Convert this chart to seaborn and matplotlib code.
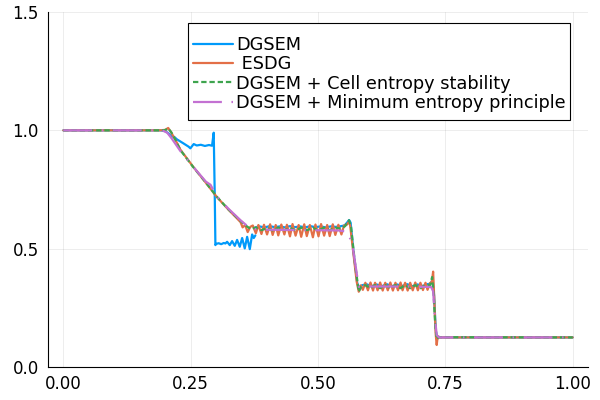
import numpy as np
import pandas as pd
import matplotlib
matplotlib.use("Agg")
import matplotlib.pyplot as plt
from matplotlib.patches import Rectangle
import seaborn as sns

# ---------------- data ----------------
labels = ["DGSEM", " ESDG", "DGSEM + Cell entropy stability", "DGSEM + Minimum entropy principle"]
colors = ["#009AFA", "#E36F47", "#3EA44E", "#C371D2"]

x_ticks = [0.00, 0.25, 0.50, 0.75, 1.00]
x_ticklabels = ["0.00", "0.25", "0.50", "0.75", "1.00"]
y_ticks = [0.0, 0.5, 1.0, 1.5]
y_ticklabels = ["0.0", "0.5", "1.0", "1.5"]

# DGSEM, first segment (left state, plateau, spurious shock, low plateau)
dg1_x = [0.0, 0.190, 0.200, 0.206, 0.212, 0.218, 0.223, 0.235, 0.246, 0.2495, 0.256,
         0.262, 0.270, 0.278, 0.286, 0.292, 0.2953, 0.2975, 0.2986, 0.300, 0.305,
         0.310, 0.315, 0.3183, 0.3216, 0.3268, 0.3314, 0.3366, 0.3412, 0.3464,
         0.3511, 0.3562, 0.3609, 0.3661, 0.3707, 0.3739, 0.3770]
dg1_y = [1.0, 1.0, 0.997, 0.988, 0.975, 0.972, 0.962, 0.946, 0.931, 0.924, 0.942,
         0.936, 0.939, 0.934, 0.938, 0.935, 0.990, 0.700, 0.515, 0.520, 0.523,
         0.519, 0.524, 0.522, 0.529, 0.515, 0.532, 0.512, 0.537, 0.508,
         0.545, 0.501, 0.550, 0.498, 0.560, 0.545, 0.556]
# DGSEM, second segment
dg2_x = [0.3770, 0.385, 0.395, 0.405, 0.415, 0.425, 0.435, 0.445, 0.455, 0.465,
         0.475, 0.485, 0.495, 0.505, 0.515, 0.525, 0.535, 0.545, 0.552, 0.557,
         0.561, 0.564, 0.570, 0.577, 0.581, 0.586, 0.595, 0.605, 0.615, 0.625,
         0.635, 0.645, 0.655, 0.665, 0.675, 0.685, 0.695, 0.705, 0.715, 0.721,
         0.725, 0.728, 0.731, 0.734, 0.737, 0.740, 1.0]
dg2_y = [0.590, 0.594, 0.590, 0.595, 0.591, 0.594, 0.590, 0.595, 0.591, 0.594,
         0.590, 0.595, 0.591, 0.594, 0.590, 0.594, 0.592, 0.595, 0.598, 0.610,
         0.621, 0.610, 0.480, 0.355, 0.335, 0.345, 0.350, 0.341, 0.349, 0.341,
         0.350, 0.341, 0.349, 0.342, 0.350, 0.341, 0.349, 0.342, 0.350, 0.352,
         0.370, 0.300, 0.160, 0.118, 0.128, 0.125, 0.125]

# ESDG
es_x = [0.0, 0.190, 0.200, 0.206, 0.212, 0.220, 0.230, 0.255, 0.280, 0.302, 0.325,
        0.340, 0.348, 0.352, 0.357, 0.362, 0.367,
        0.372, 0.378, 0.383, 0.389, 0.394, 0.400, 0.406, 0.411, 0.417, 0.422, 0.428,
        0.434, 0.439, 0.445, 0.450, 0.456, 0.462, 0.467, 0.473, 0.478, 0.484, 0.490,
        0.495, 0.501, 0.506, 0.512, 0.518, 0.523, 0.529, 0.534, 0.540, 0.546, 0.551,
        0.556, 0.560, 0.563, 0.570, 0.576, 0.580, 0.584,
        0.588, 0.593, 0.598, 0.603, 0.608, 0.612, 0.617, 0.622, 0.627, 0.632, 0.637,
        0.642, 0.647, 0.652, 0.657, 0.662, 0.666, 0.671, 0.676, 0.681, 0.686, 0.691,
        0.696, 0.701, 0.706, 0.711, 0.715, 0.720,
        0.7235, 0.726, 0.728, 0.731, 0.733, 0.735, 0.738, 1.0]
es_y = [1.0, 1.0, 1.002, 1.010, 0.990, 0.960, 0.918, 0.846, 0.778, 0.717, 0.663,
        0.630, 0.612, 0.590, 0.600, 0.570, 0.592,
        0.598, 0.565, 0.600, 0.562, 0.601, 0.560, 0.603, 0.558, 0.600, 0.556, 0.602,
        0.560, 0.601, 0.552, 0.604, 0.555, 0.600, 0.550, 0.603, 0.553, 0.600, 0.548,
        0.602, 0.552, 0.604, 0.555, 0.600, 0.553, 0.603, 0.558, 0.601, 0.560, 0.598,
        0.600, 0.612, 0.600, 0.470, 0.360, 0.318, 0.345,
        0.326, 0.356, 0.324, 0.357, 0.323, 0.356, 0.324, 0.357, 0.323, 0.356, 0.324,
        0.357, 0.323, 0.356, 0.324, 0.357, 0.324, 0.356, 0.323, 0.356, 0.324, 0.357,
        0.324, 0.356, 0.325, 0.356, 0.326, 0.355,
        0.360, 0.403, 0.300, 0.140, 0.093, 0.130, 0.125, 0.125]

# DGSEM + Cell entropy stability
ce_x = [0.0, 0.190, 0.200, 0.206, 0.212, 0.220, 0.230, 0.255, 0.280, 0.302, 0.325,
        0.348, 0.360, 0.367, 0.378, 0.389, 0.400, 0.411, 0.422, 0.434, 0.445, 0.456,
        0.467, 0.478, 0.490, 0.501, 0.512, 0.523, 0.534, 0.546, 0.553, 0.558, 0.561,
        0.565, 0.572, 0.580, 0.585, 0.593, 0.603, 0.612, 0.622, 0.632, 0.642, 0.652,
        0.662, 0.671, 0.681, 0.691, 0.701, 0.711, 0.720, 0.724, 0.727, 0.730, 0.733,
        0.736, 1.0]
ce_y = [1.0, 1.0, 1.001, 1.008, 0.992, 0.960, 0.916, 0.845, 0.779, 0.718, 0.664,
        0.617, 0.595, 0.584, 0.589, 0.578, 0.588, 0.577, 0.589, 0.578, 0.588, 0.577,
        0.589, 0.578, 0.588, 0.577, 0.589, 0.578, 0.588, 0.585, 0.595, 0.612, 0.620,
        0.590, 0.450, 0.318, 0.340, 0.346, 0.333, 0.346, 0.333, 0.346, 0.333, 0.346,
        0.333, 0.346, 0.333, 0.346, 0.333, 0.346, 0.345, 0.380, 0.310, 0.180, 0.118,
        0.126, 0.125]

# DGSEM + Minimum entropy principle
me_x = [0.0, 0.188, 0.196, 0.204, 0.213, 0.230, 0.255, 0.280, 0.289, 0.302, 0.325,
        0.348, 0.360, 0.367, 0.400, 0.450, 0.500, 0.540, 0.557, 0.562, 0.567, 0.574,
        0.580, 0.586, 0.650, 0.700, 0.722, 0.726, 0.729, 0.733, 0.737, 0.740, 1.0]
me_y = [1.0, 1.0, 0.998, 0.990, 0.965, 0.912, 0.846, 0.783, 0.770, 0.719, 0.667,
        0.620, 0.598, 0.584, 0.580, 0.579, 0.578, 0.577, 0.572, 0.548, 0.524, 0.424,
        0.339, 0.340, 0.340, 0.339, 0.338, 0.320, 0.220, 0.135, 0.126, 0.125, 0.125]

# ---------------- figure ----------------
sns.set_theme(style="white")
plt.rcParams["font.family"] = ["DejaVu Sans"]
plt.rcParams["text.color"] = "black"

fig = plt.figure(figsize=(6, 4), dpi=100)
ax = fig.add_axes([0.08, 0.0825, 0.90, 0.8875])

lw = 1.6
sns.lineplot(x=dg1_x, y=dg1_y, sort=False, estimator=None, color=colors[0], lw=lw,
             ax=ax, label=labels[0])
sns.lineplot(x=dg2_x, y=dg2_y, sort=False, estimator=None, color=colors[0], lw=lw,
             ax=ax, legend=False)
sns.lineplot(x=es_x, y=es_y, sort=False, estimator=None, color=colors[1], lw=lw,
             ax=ax, label=labels[1])
sns.lineplot(x=ce_x, y=ce_y, sort=False, estimator=None, color=colors[2], lw=lw,
             linestyle=(0, (2.4, 1.3)), ax=ax, label=labels[2])
sns.lineplot(x=me_x, y=me_y, sort=False, estimator=None, color=colors[3], lw=lw,
             linestyle=(0, (13, 4.3, 0.7, 4.3)), ax=ax, label=labels[3])

ax.set_xlim(-0.03, 1.03)
ax.set_ylim(0.0, 1.5)
ax.set_xticks(x_ticks)
ax.set_xticklabels(x_ticklabels)
ax.set_yticks(y_ticks)
ax.set_yticklabels(y_ticklabels)
ax.set_xlabel("")
ax.set_ylabel("")

ax.grid(True, color="black", alpha=0.1, lw=0.5)
for s in ["top", "right"]:
    ax.spines[s].set_visible(False)
for s in ["left", "bottom"]:
    ax.spines[s].set_visible(True)
    ax.spines[s].set_color("black")
    ax.spines[s].set_linewidth(0.8)
ax.tick_params(axis="both", direction="in", length=3.5, width=0.7, color="black",
               labelsize=12, labelcolor="black")
ax.tick_params(axis="y", pad=6.5)
ax.tick_params(axis="x", pad=5.5)

# legend frame drawn as its own box, legend entries placed inside
frame = Rectangle((0.2593, 0.6958), 0.7074, 0.2732, transform=ax.transAxes,
                  facecolor="white", edgecolor="black", lw=0.8, zorder=4.9,
                  clip_on=False)
ax.add_patch(frame)
leg = ax.legend(loc="upper left", bbox_to_anchor=(0.268, 0.932), borderaxespad=0,
                fontsize=12.8, frameon=False, handlelength=2.25,
                handletextpad=0.2, labelspacing=0.07, borderpad=0.0,
                labelcolor="black")
leg.set_zorder(5)

fig.savefig("out.png", dpi=100)
